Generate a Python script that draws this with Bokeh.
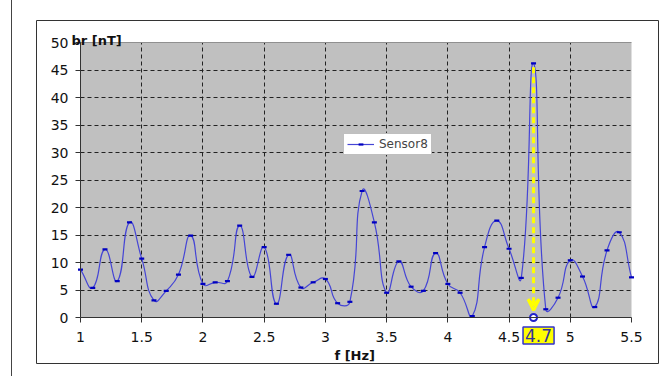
import math
from bokeh.plotting import figure
from bokeh.models import (FixedTicker, Label, Arrow, VeeHead, Legend, LegendItem,
                          LinearAxis, Grid)
from bokeh.embed import file_html
from bokeh.resources import INLINE

# ---- data ----
freq = [1.0, 1.1, 1.2, 1.3, 1.4, 1.5, 1.6, 1.7, 1.8, 1.9,
        2.0, 2.1, 2.2, 2.3, 2.4, 2.5, 2.6, 2.7, 2.8, 2.9,
        3.0, 3.1, 3.2, 3.3, 3.4, 3.5, 3.6, 3.7, 3.8, 3.9,
        4.0, 4.1, 4.2, 4.3, 4.4, 4.5, 4.6, 4.7, 4.8, 4.9,
        5.0, 5.1, 5.2, 5.3, 5.4, 5.5]
br = [8.7, 5.4, 12.4, 6.6, 17.3, 10.7, 3.1, 4.85, 7.8, 14.9,
      6.1, 6.4, 6.6, 16.7, 7.4, 12.8, 2.5, 11.4, 5.45, 6.4,
      7.0, 2.6, 2.85, 23.0, 17.3, 4.5, 10.2, 5.6, 4.85, 11.7,
      6.1, 4.5, 0.25, 12.8, 17.6, 12.5, 7.2, 46.2, 1.5, 3.6,
      10.4, 7.45, 1.9, 12.2, 15.5, 7.3]
series_name = "Sensor8"
x_ticks = [1, 1.5, 2, 2.5, 3, 3.5, 4, 4.5, 5, 5.5]
x_tick_labels = ["1", "1.5", "2", "2.5", "3", "3.5", "4", "4.5", "5", "5.5"]
y_ticks = [0, 5, 10, 15, 20, 25, 30, 35, 40, 45, 50]
y_tick_labels = ["0", "5", "10", "15", "20", "25", "30", "35", "40", "45", "50"]
x_min, x_max = 1, 5.5
y_min, y_max = 0, 50
peak_freq = 4.7
peak_label = "4.7"
peak_top = 45.5
x_title = "f [Hz]"
y_title = "br [nT]"

FONT = "DejaVu Sans"

# ---- geometry (page pixels) ----
CANVAS_L, CANVAS_T, W, H = 36, 20, 623, 344
PA_L, PA_R, PA_T, PA_B = 80, 631, 42, 317
sx = (PA_R - PA_L) / (x_max - x_min)
sy = (PA_B - PA_T) / (y_max - y_min)


def px2x(px):
    return x_min + (px - PA_L) / sx


def px2y(py):
    return y_min + (PA_B - py) / sy


p = figure(width=W, height=H,
           x_range=(px2x(CANVAS_L), px2x(CANVAS_L + W)),
           y_range=(px2y(CANVAS_T + H), px2y(CANVAS_T)),
           output_backend="svg", toolbar_location=None,
           x_axis_location=None, y_axis_location=None,
           min_border=0, background_fill_color="white", border_fill_color="white",
           outline_line_color="#333333", outline_line_width=1)
p.xgrid.visible = False
p.ygrid.visible = False

# plot area
area = p.quad(left=[x_min], right=[x_max], bottom=[y_min], top=[y_max],
              fill_color="#C0C0C0", line_color=None)
area.level = "image"

# grids
p.add_layout(Grid(dimension=0, ticker=FixedTicker(ticks=x_ticks[1:-1]),
                  cross_bounds=(y_min, y_max), grid_line_color="#222222",
                  grid_line_dash="4 3", grid_line_width=1))
p.add_layout(Grid(dimension=1, ticker=FixedTicker(ticks=y_ticks[1:-1]),
                  cross_bounds=(x_min, x_max), grid_line_color="#222222",
                  grid_line_dash="4 3", grid_line_width=1))

# axes
xaxis = LinearAxis(fixed_location=y_min, bounds=(x_min, x_max),
                   ticker=FixedTicker(ticks=x_ticks),
                   major_label_overrides={float(t): l for t, l in zip(x_ticks, x_tick_labels)})
yaxis = LinearAxis(fixed_location=x_min, bounds=(y_min, y_max),
                   ticker=FixedTicker(ticks=y_ticks),
                   major_label_overrides={float(t): l for t, l in zip(y_ticks, y_tick_labels)})
for ax in (xaxis, yaxis):
    ax.axis_line_color = "#333333"
    ax.major_tick_line_color = "#333333"
    ax.major_tick_out = 5
    ax.major_tick_in = 0
    ax.minor_tick_line_color = None
    ax.major_label_text_font = FONT
    ax.major_label_text_font_size = "14px"
    ax.major_label_text_color = "#111111"
xaxis.major_label_standoff = 9
yaxis.major_label_standoff = 7
p.add_layout(xaxis, "below")
p.add_layout(yaxis, "left")
top_line = LinearAxis(fixed_location=y_max, bounds=(x_min, x_max),
                      ticker=FixedTicker(ticks=[]), axis_line_color="#909090",
                      major_tick_line_color=None, minor_tick_line_color=None)
p.add_layout(top_line, "above")

# smoothed line: Bezier segments through the data points, tangents weighted
# by the on-screen segment lengths (as a spreadsheet's "smoothed line")
n = len(freq)
PX = [f * sx for f in freq]
PY = [b * sy for b in br]


def seglen(i, j):
    return math.hypot(PX[j] - PX[i], PY[j] - PY[i])


K = 0.5
out_c, in_c = [], []
for i in range(n):
    im = max(i - 1, 0)
    ip = min(i + 1, n - 1)
    tx, ty = PX[ip] - PX[im], PY[ip] - PY[im]
    dp, dn = seglen(im, i), seglen(i, ip)
    tot = dp + dn if dp + dn > 0 else 1
    out_c.append((freq[i] + tx * dn / tot * K / sx, br[i] + ty * dn / tot * K / sy))
    in_c.append((freq[i] - tx * dp / tot * K / sx, br[i] - ty * dp / tot * K / sy))

bez = p.bezier(x0=freq[:-1], y0=br[:-1], x1=freq[1:], y1=br[1:],
               cx0=[c[0] for c in out_c[:-1]], cy0=[c[1] for c in out_c[:-1]],
               cx1=[c[0] for c in in_c[1:]], cy1=[c[1] for c in in_c[1:]],
               line_color="#4545D5", line_width=1.2)
pts = p.scatter(freq, br, marker="dash", size=5, line_width=2.2, line_color="#0000C0")

# highlight of the peak
p.add_layout(Arrow(end=VeeHead(size=11, line_color="#FFFF00", line_width=3, fill_alpha=0),
                   x_start=peak_freq, y_start=peak_top, x_end=peak_freq, y_end=1.3,
                   line_color="#FFFF00", line_width=3, line_dash="6 4"))
p.scatter([peak_freq], [y_min], marker="circle", size=7, fill_color="white",
          line_color="#2222CC", line_width=2)
p.add_layout(Label(x=peak_freq + 5 / sx, y=px2y(335), text=peak_label,
                   text_align="center", text_baseline="middle",
                   text_font=FONT, text_font_size="17px", text_color="#333399",
                   background_fill_color="#FFFF00", border_line_color="#3333CC",
                   border_line_width=1.5, padding=2))

# axis titles
p.add_layout(Label(x=px2x(71), y=px2y(40), text=y_title,
                   text_font=FONT, text_font_style="bold", text_font_size="13px",
                   text_color="#111111", text_baseline="alphabetic"))
p.add_layout(Label(x=px2x(334), y=px2y(355), text=x_title,
                   text_font=FONT, text_font_style="bold", text_font_size="13px",
                   text_color="#111111", text_baseline="alphabetic"))

legend = Legend(items=[LegendItem(label=series_name, renderers=[bez, pts])],
                location=(343 - CANVAS_L, CANVAS_T + H - 155), padding=3, margin=0,
                glyph_width=27, glyph_height=12, label_height=12, label_standoff=5,
                spacing=0, label_text_font=FONT, label_text_font_size="12px",
                border_line_color="#808080", background_fill_color="white",
                background_fill_alpha=1)
p.add_layout(legend)

p.styles = {"outline": "1px solid #444444", "outline-offset": "24px"}
p.margin = (CANVAS_T, 0, 0, CANVAS_L)

open("out.html", "w").write(file_html(p, INLINE))
